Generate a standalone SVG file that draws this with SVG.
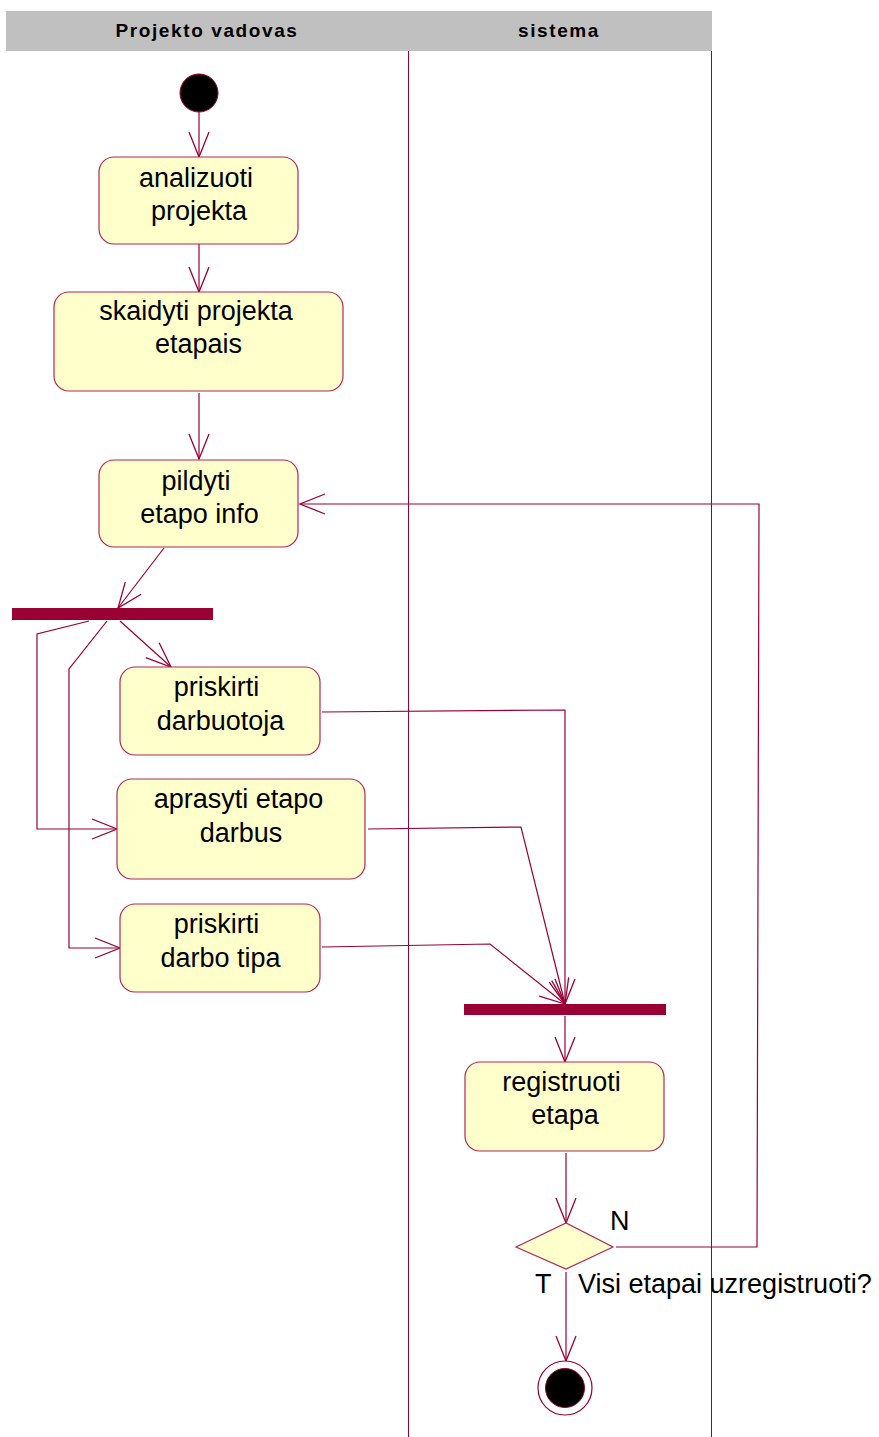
<svg xmlns="http://www.w3.org/2000/svg" width="879" height="1437" viewBox="0 0 879 1437">
<style>
.lane{fill:none;stroke:#990033;stroke-width:1}
.hdr{font-family:"Liberation Sans",Arial,sans-serif;font-weight:bold;font-size:19px;letter-spacing:1.6px;fill:#000;text-anchor:middle}
.act{fill:#FFFFCC;stroke:#B0285A;stroke-width:1.2}
.t{font-family:"Liberation Sans",Arial,sans-serif;font-size:27px;fill:#000;text-anchor:middle}
.lbl{font-family:"Liberation Sans",Arial,sans-serif;font-size:27px;fill:#000}
.c{fill:none;stroke:#990033;stroke-width:1.2;marker-end:url(#arr)}
.bar{fill:#990033}
</style>
<defs>
<marker id="arr" markerUnits="userSpaceOnUse" markerWidth="30" markerHeight="24" viewBox="-27 -12 30 24" refX="0" refY="0" orient="auto">
<path d="M-25,-10 L0,0 L-25,10" fill="none" stroke="#990033" stroke-width="1.3"/>
</marker>
</defs>
<g id="swimlanes">
<rect x="6" y="11" width="706" height="40" fill="#C0C0C0"/>
<text class="hdr" x="207" y="37">Projekto vadovas</text>
<text class="hdr" x="559" y="37">sistema</text>
<line class="lane" x1="408.5" y1="51" x2="408.5" y2="1437"/>
<line class="lane" x1="711.5" y1="51" x2="711.5" y2="1437"/>
</g>
<g id="connectors">
<path class="c" d="M199,112 L199,157"/>
<path class="c" d="M199,244 L199,292"/>
<path class="c" d="M199,393 L199,459"/>
<path class="c" d="M164,548 L118,608"/>
<path class="c" d="M120,621 L171,667"/>
<path class="c" d="M89,621 L37,634 L37,829 L117,829"/>
<path class="c" d="M107,621 L69,669 L69,948 L120,948"/>
<path class="c" d="M322,712 L565,710 L565,1004"/>
<path class="c" d="M368,829 L521,827 L565,1004"/>
<path class="c" d="M322,947 L490,944 L565,1004"/>
<path class="c" d="M565,1016 L565,1062"/>
<path class="c" d="M566,1153 L566,1223"/>
<path class="c" d="M566,1272 L566,1361"/>
<path class="c" d="M616,1247 L757,1247 L759,504 L300,504"/>
</g>
<g id="start">
<circle cx="199" cy="93" r="19" fill="#000" stroke="#990033" stroke-width="1"/>
</g>
<g id="analizuoti">
<rect class="act" x="99" y="157" width="199" height="87" rx="15"/>
<text class="t" x="196" y="187">analizuoti</text>
<text class="t" x="199" y="220">projekta</text>
</g>
<g id="skaidyti">
<rect class="act" x="54" y="292" width="289" height="99" rx="15"/>
<text class="t" x="196" y="320">skaidyti projekta</text>
<text class="t" x="198.5" y="353">etapais</text>
</g>
<g id="pildyti">
<rect class="act" x="99" y="460" width="199" height="87" rx="15"/>
<text class="t" x="196" y="490">pildyti</text>
<text class="t" x="199.5" y="523">etapo info</text>
</g>
<g id="fork">
<rect class="bar" x="12" y="608" width="201" height="12"/>
</g>
<g id="priskirti_darbuotoja">
<rect class="act" x="120" y="667" width="200" height="88" rx="15"/>
<text class="t" x="216.5" y="696">priskirti</text>
<text class="t" x="220.5" y="730">darbuotoja</text>
</g>
<g id="aprasyti">
<rect class="act" x="117" y="779" width="248" height="100" rx="15"/>
<text class="t" x="238.5" y="808">aprasyti etapo</text>
<text class="t" x="241" y="842">darbus</text>
</g>
<g id="priskirti_tipa">
<rect class="act" x="120" y="904" width="200" height="88" rx="15"/>
<text class="t" x="216.5" y="933">priskirti</text>
<text class="t" x="220.5" y="967">darbo tipa</text>
</g>
<g id="join">
<rect class="bar" x="464" y="1004" width="202" height="11"/>
</g>
<g id="registruoti">
<rect class="act" x="465" y="1062" width="199" height="89" rx="15"/>
<text class="t" x="561.5" y="1091">registruoti</text>
<text class="t" x="565" y="1124">etapa</text>
</g>
<g id="decision">
<polygon points="516,1247 566,1223 613,1247 566,1269" fill="#FFFFCC" stroke="#B0285A" stroke-width="1.2"/>
<text class="lbl" x="610" y="1230">N</text>
<text class="lbl" x="535" y="1293">T</text>
<text class="lbl" x="578" y="1293">Visi etapai uzregistruoti?</text>
</g>
<g id="end">
<circle cx="565" cy="1388" r="27" fill="#fff" stroke="#990033" stroke-width="1.2"/>
<circle cx="565" cy="1388" r="19.5" fill="#000" stroke="#990033" stroke-width="1"/>
</g>
</svg>
